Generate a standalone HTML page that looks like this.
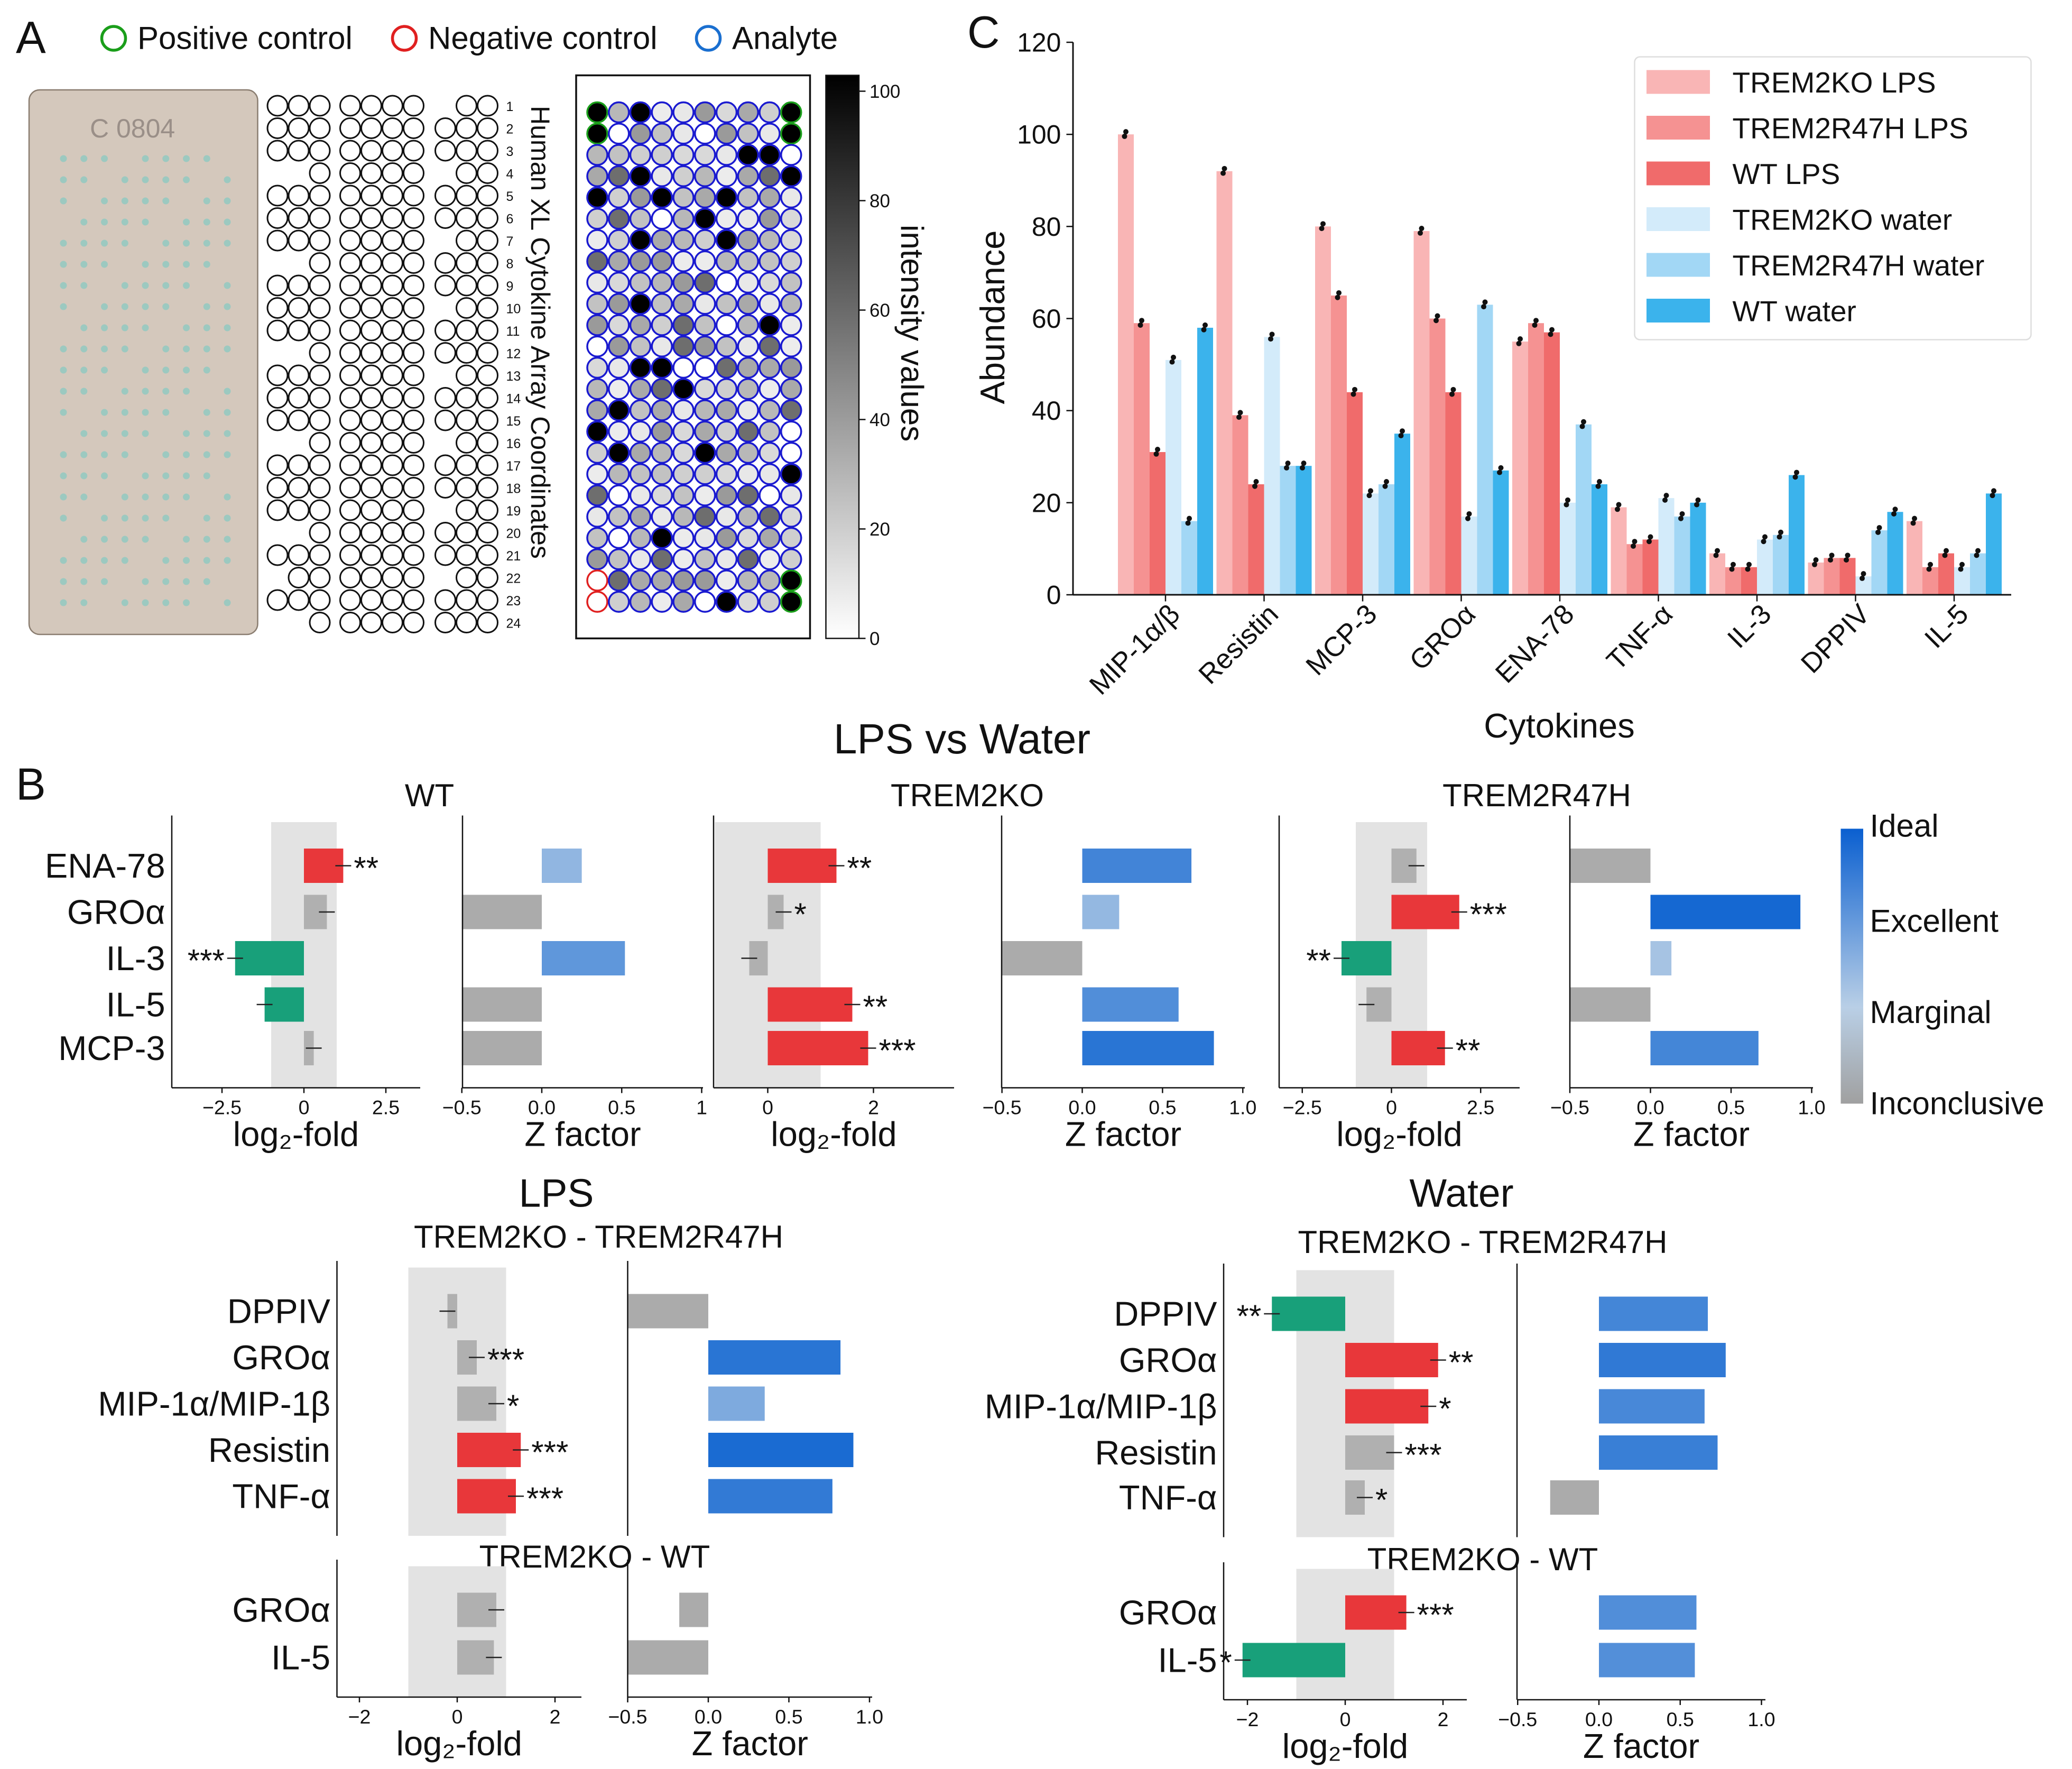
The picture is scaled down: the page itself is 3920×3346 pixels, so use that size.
<!DOCTYPE html>
<html><head><meta charset="utf-8"><style>
html,body{margin:0;padding:0;background:#fff}
svg{display:block;font-family:"Liberation Sans","DejaVu Sans",sans-serif}
</style></head><body>
<svg id="fig" width="3920" height="3346" viewBox="0 0 1568 1338.4" preserveAspectRatio="none" xmlns="http://www.w3.org/2000/svg">
<defs>
<linearGradient id="cbGray" x1="0" y1="1" x2="0" y2="0"><stop offset="0" stop-color="#fff"/><stop offset="1" stop-color="#000"/></linearGradient>
<linearGradient id="cbBlue" x1="0" y1="1" x2="0" y2="0"><stop offset="0" stop-color="#a0a0a0"/><stop offset="0.35" stop-color="#b9cfe6"/><stop offset="1" stop-color="#0a5fd0"/></linearGradient>
</defs>
</svg>
<script>
// ---------- Panel C data ----------
const cytokines = ["MIP-1\u03b1/\u03b2","Resistin","MCP-3","GRO\u03b1","ENA-78","TNF-\u03b1","IL-3","DPPIV","IL-5"];
const seriesNames = ["TREM2KO LPS","TREM2R47H LPS","WT LPS","TREM2KO water","TREM2R47H water","WT water"];
const koLps = [100,92,80,79,55,19,9,7,16];
const r47hLps = [59,39,65,60,59,11,6,8,6];
const wtLps = [31,24,44,44,57,12,6,8,9];
const koWater = [51,56,22,17,20,21,12,4,6];
const r47hWater = [16,28,24,63,37,17,13,14,9];
const wtWater = [58,28,35,27,24,20,26,18,22];
const yTicksC = [0,20,40,60,80,100,120];
// ---------- Panel B data ----------
const rowsTop = ["ENA-78","GRO\u03b1","IL-3","IL-5","MCP-3"];
const wtLog2 = [1.2,0.7,-2.1,-1.2,0.3];
const wtZ = [0.25,-0.5,0.52,-0.5,-0.5];
const wtStars = ["**","","***","",""];
const koLog2 = [1.3,0.3,-0.35,1.6,1.9];
const koZ = [0.68,0.23,-0.5,0.6,0.82];
const koStars = ["**","*","","**","***"];
const r47Log2 = [0.7,1.9,-1.4,-0.7,1.5];
const r47Z = [-0.5,0.93,0.13,-0.5,0.67];
const r47Stars = ["","***","**","","**"];
const rowsBot = ["DPPIV","GRO\u03b1","MIP-1\u03b1/MIP-1\u03b2","Resistin","TNF-\u03b1"];
const lpsLog2 = [-0.2,0.4,0.8,1.3,1.2];
const lpsZ = [-0.5,0.82,0.35,0.9,0.77];
const lpsStars = ["","***","*","***","***"];
const waterLog2 = [-1.5,1.9,1.7,1.0,0.4];
const waterZ = [0.67,0.78,0.65,0.73,-0.3];
const waterStars = ["**","**","*","***","*"];
const rowsWt = ["GRO\u03b1","IL-5"];
const lpsWtLog2 = [0.8,0.75];
const lpsWtZ = [-0.18,-0.5];
const waterWtLog2 = [1.25,-2.1];
const waterWtZ = [0.6,0.59];
const waterWtStars = ["***","*"];

const svg = document.getElementById('fig');
const NS = "http://www.w3.org/2000/svg";
function mk(tag, attrs, name, parent){
  const el = document.createElementNS(NS, tag);
  for (const k in attrs) el.setAttribute(k, attrs[k]);
  
  
  (parent||svg).appendChild(el);
  return el;
}
function txt(x,y,s,size,name,extra){
  const a = Object.assign({x:x,y:y,'font-size':size,fill:'#111'}, extra||{});
  const t = mk('text', a, name);
  t.textContent = s;
  return t;
}

// ---------- Panel labels ----------
txt(12,40,"A",34,"panel-a-label");
txt(12,605,"B",34,"panel-b-label");
txt(732,36,"C",34,"panel-c-label");

// ---------- Panel A ----------
[[86,"#1a9e1a","Positive control"],[306,"#e02020","Negative control"],[536,"#1a6fd0","Analyte"]].forEach((d,i)=>{
  mk('circle',{cx:d[0],cy:29,r:9,fill:'none',stroke:d[1],'stroke-width':2.2},'legend-marker');
  txt(d[0]+18,37,d[2],24,'legend-entry');
});
mk('rect',{x:22,y:68,width:173,height:412,rx:8,fill:'#d4c8bc',stroke:'#8a7d70'},'array-membrane-photo');
txt(68,104,"C 0804",20,'membrane-id',{fill:'#9a8f88'});
for(let r=0;r<22;r++){for(let c=0;c<9;c++){
  if((r+c)%5===3) continue;
  mk('circle',{cx:48+c*15.5,cy:120+r*16,r:2.6,fill:'#9cc9c0'},'membrane-spot');
}}
const colsA=[210,226,242,265,281,297,313,337,353,369];
for(let r=0;r<24;r++){
  const y=80+r*17;
  colsA.forEach((x,ci)=>{
    if((r%4===3&&ci<2)||(ci===7&&r%3===0)||(r>20&&ci===0&&r<22)) return;
    mk('circle',{cx:x,cy:y,r:7.6,fill:'none',stroke:'#111','stroke-width':1.2},'coordinate-spot');
  });
  txt(383,y+4,String(r+1),10,'row-number');
}
txt(0,0,"Human XL Cytokine Array Coordinates",20,'coordinates-label',{transform:'translate(402,80) rotate(90)'});
mk('rect',{x:436,y:57,width:177,height:426,fill:'#fff',stroke:'#111','stroke-width':1.4},'intensity-array-frame');
const grays=['#fff','#e8e8e8','#cfcfcf','#b8b8b8','#9a9a9a','#6e6e6e','#000','#d9d9d9','#c2c2c2','#ececec','#a9a9a9'];
for(let r=0;r<24;r++){for(let c=0;c<10;c++){
  const x=452+c*16.3,y=85+r*16.1;
  const isPos=((r<2)&&(c===0||c===9))||((r>21)&&c===9);
  const isNeg=(r>21)&&c===0;
  let fill=grays[(r*7+c*3+(r*c)%5)%grays.length];
  if(isPos) fill='#000';
  mk('circle',{cx:x,cy:y,r:7.6,fill:isNeg?'#fff':fill,stroke:isPos?'#1a9e1a':(isNeg?'#e02020':'#1a1ad0'),'stroke-width':1.4},'intensity-spot');
}}
mk('rect',{x:625,y:57,width:25,height:426,fill:'url(#cbGray)',stroke:'#111'},'intensity-colorbar');
[0,20,40,60,80,100].forEach(v=>{const y=483-v*4.14;mk('line',{x1:650,x2:655,y1:y,y2:y,stroke:'#111'},'colorbar-tick');txt(658,y+5,String(v),14,'colorbar-tick-label');});
txt(0,0,"intensity values",24,'colorbar-title',{transform:'translate(682,170) rotate(90)'});

// ---------- Panel C chart ----------
const cX0=812,cY0=450,cYs=(450-32)/120;
const yC=v=>cY0-v*cYs;
const grpC=i=>882+i*74.6;
const colorsC=["#f9b5b5","#f59292","#f06b6b","#d3ebfa","#a2d7f5","#3bb3ec"];
const allSeries=[koLps,r47hLps,wtLps,koWater,r47hWater,wtWater];
allSeries.forEach((ser,s)=>{ser.forEach((v,i)=>{
  const x=grpC(i)-36+s*12;
  mk('rect',{x:x,y:yC(v),width:12,height:cY0-yC(v),fill:colorsC[s]},'bar-'+s+'-'+i);
  mk('line',{x1:x+6,x2:x+6,y1:yC(v)-3,y2:yC(v)+3,stroke:'#111','stroke-width':1},'error-bar');
  mk('circle',{cx:x+6,cy:yC(v)-2,r:2,fill:'#111'},'data-point');
  mk('circle',{cx:x+5,cy:yC(v)+1.5,r:2,fill:'#111'},'data-point');
});});
mk('line',{x1:cX0,x2:cX0,y1:32,y2:450,stroke:'#111','stroke-width':1.2},'c-y-axis');
mk('line',{x1:cX0,x2:1522,y1:450,y2:450,stroke:'#111','stroke-width':1.2},'c-x-axis');
yTicksC.forEach(v=>{mk('line',{x1:cX0-5,x2:cX0,y1:yC(v),y2:yC(v),stroke:'#111'},'c-y-tick');txt(cX0-9,yC(v)+7,String(v),20,'c-y-tick-label',{'text-anchor':'end'});});
cytokines.forEach((c,i)=>{const x=grpC(i);mk('line',{x1:x,x2:x,y1:450,y2:455,stroke:'#111'},'c-x-tick');txt(0,0,c,21,'c-x-tick-label',{'text-anchor':'end',transform:`translate(${x+12},${466}) rotate(-45)`});});
txt(0,0,"Abundance",26,'c-y-axis-title',{'text-anchor':'middle',transform:'translate(760,240) rotate(-90)'});
txt(1180,558,"Cytokines",26,'c-x-axis-title',{'text-anchor':'middle'});
mk('rect',{x:1237,y:43,width:300,height:214,rx:4,fill:'#fff',stroke:'#ddd'},'c-legend');
seriesNames.forEach((n,s)=>{const y=62+s*34.6;mk('rect',{x:1246,y:y-9,width:48,height:18,fill:colorsC[s]},'c-legend-swatch');txt(1311,y+8,n,22,'c-legend-entry');});

// ---------- Panel B helpers ----------
function zColor(v){
  if(v<=0.05) return '#ababab';
  const t=Math.min(1,v/1.0);
  const a=[190,210,230],b=[8,96,208];
  return `rgb(${Math.round(a[0]+(b[0]-a[0])*t)},${Math.round(a[1]+(b[1]-a[1])*t)},${Math.round(a[2]+(b[2]-a[2])*t)})`;
}
function logPanel(o){
  const sx=v=>o.zx+v*o.s;
  const top=o.rowY[0]-33,bot=o.rowY[o.rowY.length-1]+30;
  mk('rect',{x:sx(-1),y:top,width:2*o.s,height:bot-top,fill:'#e3e3e3'},'insignificance-band');
  o.vals.forEach((v,i)=>{
    const y=o.rowY[i];
    const sig=Math.abs(v)>1;
    const col=!sig?'#b0b0b0':(v>0?'#e8373a':'#18a07a');
    const x0=Math.min(sx(0),sx(v));
    mk('rect',{x:x0,y:y-13,width:Math.abs(sx(v)-sx(0)),height:26,fill:col},'log2-bar');
    mk('line',{x1:sx(v)-6,x2:sx(v)+6,y1:y,y2:y,stroke:'#222','stroke-width':1},'error-bar');
    const st=o.stars?o.stars[i]:'';
    if(st){if(v>=0) txt(sx(v)+8,y+10,st,24,'significance-stars');else txt(sx(v)-8,y+10,st,24,'significance-stars',{'text-anchor':'end'});}
    if(o.labels) txt(o.left-5,y+9,o.labels[i],26,'row-label',{'text-anchor':'end'});
  });
  mk('line',{x1:o.left,x2:o.left,y1:top-5,y2:bot,stroke:'#111'},'log2-y-axis');
  if(o.ticks){
    mk('line',{x1:o.left,x2:o.right,y1:bot,y2:bot,stroke:'#111'},'log2-x-axis');
    o.ticks.forEach(t=>{mk('line',{x1:sx(t),x2:sx(t),y1:bot,y2:bot+4,stroke:'#111'},'log2-x-tick');txt(sx(t),bot+20,String(t).replace('-','\u2212'),15,'log2-x-tick-label',{'text-anchor':'middle'});});
    txt((o.left+o.right)/2,bot+44,"log\u2082-fold",26,'log2-axis-title',{'text-anchor':'middle'});
  }
}
function zPanel(o){
  const sx=v=>o.zx+v*o.s;
  const top=o.rowY[0]-33,bot=o.rowY[o.rowY.length-1]+30;
  o.vals.forEach((v,i)=>{
    const y=o.rowY[i];
    mk('rect',{x:Math.min(sx(0),sx(v)),y:y-13,width:Math.abs(sx(v)-sx(0)),height:26,fill:zColor(v)},'z-bar');
  });
  mk('line',{x1:o.left,x2:o.left,y1:top-5,y2:bot,stroke:'#111'},'z-y-axis');
  if(o.ticks){
    mk('line',{x1:o.left,x2:o.right,y1:bot,y2:bot,stroke:'#111'},'z-x-axis');
    o.ticks.forEach(t=>{mk('line',{x1:sx(t),x2:sx(t),y1:bot,y2:bot+4,stroke:'#111'},'z-x-tick');txt(sx(t),bot+20,t.replace('-','\u2212'),15,'z-x-tick-label',{'text-anchor':'middle'});});
    txt((o.left+o.right)/2,bot+44,"Z factor",26,'z-axis-title',{'text-anchor':'middle'});
  }
}
const rowTopY=[655,690,725,760,793];
txt(728,570,"LPS vs Water",32,'b-top-title',{'text-anchor':'middle'});
txt(325,610,"WT",24,'subplot-title',{'text-anchor':'middle'});
txt(732,610,"TREM2KO",24,'subplot-title',{'text-anchor':'middle'});
txt(1163,610,"TREM2R47H",24,'subplot-title',{'text-anchor':'middle'});
logPanel({zx:230,s:24.8,left:130,right:318,rowY:rowTopY,vals:wtLog2,stars:wtStars,labels:rowsTop,ticks:[-2.5,0.0,2.5]});
zPanel({zx:410,s:121,left:350,right:532,rowY:rowTopY,vals:wtZ,ticks:['-0.5','0.0','0.5','1']});
logPanel({zx:581,s:40,left:540,right:722,rowY:rowTopY,vals:koLog2,stars:koStars,ticks:[0,2]});
zPanel({zx:819,s:121.5,left:758,right:942,rowY:rowTopY,vals:koZ,ticks:['-0.5','0.0','0.5','1.0']});
logPanel({zx:1053,s:27,left:968,right:1150,rowY:rowTopY,vals:r47Log2,stars:r47Stars,ticks:[-2.5,0.0,2.5]});
zPanel({zx:1249,s:122,left:1188,right:1372,rowY:rowTopY,vals:r47Z,ticks:['-0.5','0.0','0.5','1.0']});
mk('rect',{x:1393,y:627,width:17,height:208,fill:'url(#cbBlue)'},'zfactor-colorbar');
[["Ideal",633],["Excellent",705],["Marginal",774],["Inconclusive",843]].forEach(d=>txt(1415,d[1],d[0],24,'colorbar-category-label'));

// bottom LPS
txt(421,913,"LPS",30,'lps-title',{'text-anchor':'middle'});
txt(453,944,"TREM2KO - TREM2R47H",24,'subplot-title',{'text-anchor':'middle'});
const rowBotY=[992,1027,1062,1097,1132];
logPanel({zx:346,s:37,left:255,right:440,rowY:rowBotY,vals:lpsLog2,stars:lpsStars,labels:rowsBot});
zPanel({zx:536,s:122,left:475,right:660,rowY:rowBotY,vals:lpsZ});
txt(450,1186,"TREM2KO - WT",24,'subplot-title',{'text-anchor':'middle'});
logPanel({zx:346,s:37,left:255,right:440,rowY:[1218,1254],vals:lpsWtLog2,labels:rowsWt,ticks:[-2,0,2]});
zPanel({zx:536,s:122,left:475,right:660,rowY:[1218,1254],vals:lpsWtZ,ticks:['-0.5','0.0','0.5','1.0']});

// bottom Water
txt(1106,913,"Water",30,'water-title',{'text-anchor':'middle'});
txt(1122,948,"TREM2KO - TREM2R47H",24,'subplot-title',{'text-anchor':'middle'});
const rowWY=[994,1029,1064,1099,1133];
logPanel({zx:1018,s:37,left:926,right:1110,rowY:rowWY,vals:waterLog2,stars:waterStars,labels:rowsBot});
zPanel({zx:1210,s:123,left:1148,right:1336,rowY:rowWY,vals:waterZ});
txt(1122,1188,"TREM2KO - WT",24,'subplot-title',{'text-anchor':'middle'});
logPanel({zx:1018,s:37,left:926,right:1110,rowY:[1220,1256],vals:waterWtLog2,stars:waterWtStars,labels:rowsWt,ticks:[-2,0,2]});
zPanel({zx:1210,s:123,left:1148,right:1336,rowY:[1220,1256],vals:waterWtZ,ticks:['-0.5','0.0','0.5','1.0']});
</script>
</body></html>
